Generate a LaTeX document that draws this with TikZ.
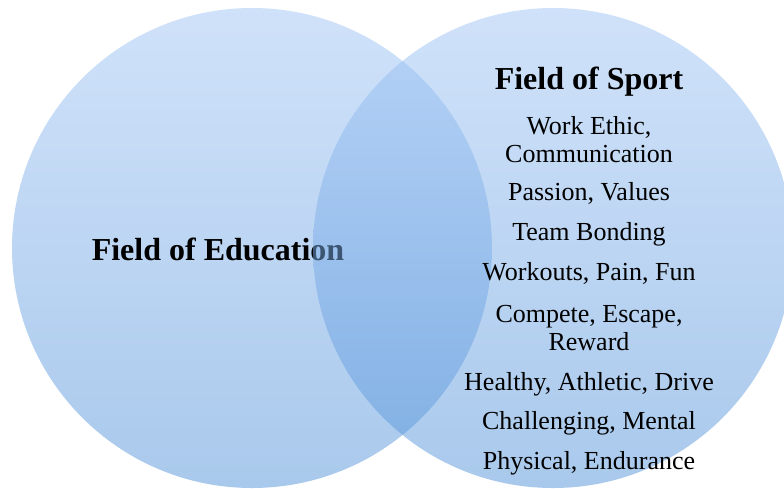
\documentclass[tikz,border=0pt]{standalone}
\usepackage{fontspec}
\setmainfont{Liberation Serif}
\usepackage{tikz}
\usetikzlibrary{positioning}

\definecolor{blobtop}{RGB}{161,197,245}
\definecolor{blobbot}{RGB}{83,147,217}

\tikzset{
  field/.style = {circle, inner sep = 0pt, minimum size = 480pt,
    top color = blobtop, bottom color = blobbot, fill opacity = .5, text opacity = 1},
  head/.style = {font = \fontsize{32}{34}\selectfont\bfseries, inner sep = 0pt},
  item/.style = {font = \fontsize{26}{28}\selectfont, align = center, inner sep = 0pt}
}

\begin{document}
\begin{tikzpicture}[x = 1pt, y = -1pt]
\useasboundingbox (0,0) rectangle (784,488);
\node[field] (edu) at (252,248) {};
\node[head] (eduname) at (218,249) {Field of Education};
\node[field] (sport) at (553,248) {};
\node[head] (sportname) at (589,82) {Field of Sport};
\node[item] (w1) at (589,140) {Work Ethic,\\Communication};
\node[item] (w2) at (589,193) {Passion, Values};
\node[item] (w3) at (589,234) {Team Bonding};
\node[item] (w4) at (589,273) {Workouts, Pain, Fun};
\node[item] (w5) at (589,328) {Compete, Escape,\\Reward};
\node[item] (w6) at (589,384) {Healthy, Athletic, Drive};
\node[item] (w7) at (589,423) {Challenging, Mental};
\node[item] (w8) at (589,463) {Physical, Endurance};
\end{tikzpicture}
\end{document}
